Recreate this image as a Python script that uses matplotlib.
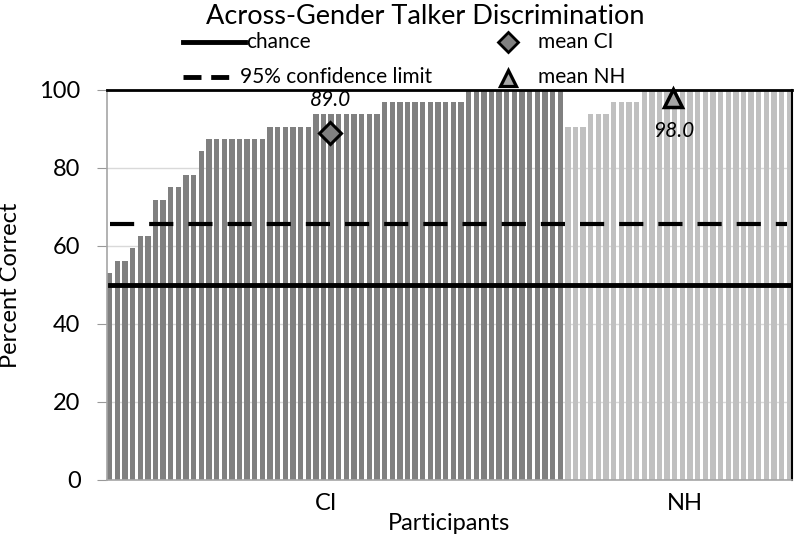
import numpy as np
import matplotlib.pyplot as plt
from matplotlib.lines import Line2D

plt.rcParams["font.family"] = ["Lato", "DejaVu Sans"]

# percent correct per participant, sorted within group
ci_scores = [53.125, 56.25, 56.25, 59.375, 62.5, 62.5, 71.875, 71.875, 75.0, 75.0,
             78.125, 78.125, 84.375, 87.5, 87.5, 87.5, 87.5, 87.5, 87.5, 87.5,
             87.5, 90.625, 90.625, 90.625, 90.625, 90.625, 90.625, 93.75, 93.75, 93.75,
             93.75, 93.75, 93.75, 93.75, 93.75, 93.75, 96.875, 96.875, 96.875, 96.875,
             96.875, 96.875, 96.875, 96.875, 96.875, 96.875, 96.875, 100, 100, 100,
             100, 100, 100, 100, 100, 100, 100, 100, 100, 100]
nh_scores = [90.625, 90.625, 90.625, 93.75, 93.75, 93.75, 96.875, 96.875, 96.875, 96.875,
             100, 100, 100, 100, 100, 100, 100, 100, 100, 100,
             100, 100, 100, 100, 100, 100, 100, 100, 100, 100]

group_labels = ["CI", "NH"]
group_label_pos = [28.4, 75.3]

chance_level = 50
conf_limit = 65.625

ci_mean = 89.0
nh_mean = 98.0
ci_mean_pos = 28.9
nh_mean_pos = 73.8

ci_color = "#808080"
nh_color = "#c0c0c0"

fig = plt.figure(figsize=(8, 5.43), dpi=100)
ax = fig.add_axes([107 / 800, 63 / 543, 685 / 800, 390 / 543])

n_ci = len(ci_scores)
n_nh = len(nh_scores)
x_ci = np.arange(n_ci)
x_nh = np.arange(n_ci, n_ci + n_nh)

ax.bar(x_ci, ci_scores, width=0.7, color=ci_color, zorder=2)
ax.bar(x_nh, nh_scores, width=0.7, color=nh_color, zorder=2)

x_end = n_ci + n_nh - 0.5
ax.plot([0, x_end], [chance_level, chance_level], color="black", lw=3.5, zorder=3)
ax.plot([0, x_end - 0.8], [conf_limit, conf_limit], color="black", lw=3,
        linestyle=(0, (5.8, 3.6)), zorder=3)

ax.plot(ci_mean_pos, ci_mean, marker="D", ms=11, mfc="#808080", mec="black",
        mew=2.2, zorder=4, clip_on=False)
ax.plot(nh_mean_pos, nh_mean, marker="^", ms=13, mfc="#a6a6a6", mec="black",
        mew=2.5, zorder=4, clip_on=False)
ax.annotate(f"{ci_mean:.1f}", (ci_mean_pos, ci_mean), xytext=(0, 24),
            textcoords="offset points", ha="center", va="center",
            fontsize=15, style="italic")
ax.annotate(f"{nh_mean:.1f}", (nh_mean_pos, nh_mean), xytext=(0, -24),
            textcoords="offset points", ha="center", va="center",
            fontsize=15, style="italic")

ax.set_xlim(-0.35, x_end - 0.15)
ax.set_ylim(0, 100)
ax.set_yticks([0, 20, 40, 60, 80, 100])
ax.yaxis.grid(True, color="#d9d9d9", lw=1, zorder=0)
ax.set_axisbelow(True)
ax.set_xticks(group_label_pos)
ax.set_xticklabels(group_labels)
ax.tick_params(axis="x", length=0, pad=9, labelsize=17)
ax.tick_params(axis="y", length=7, color="#999999", pad=12, labelsize=17)

for s in ["left", "bottom"]:
    ax.spines[s].set_color("#a6a6a6")
    ax.spines[s].set_linewidth(1.2)
ax.spines["top"].set_color("black")
ax.spines["top"].set_linewidth(2)
ax.spines["right"].set_color("black")
ax.spines["right"].set_linewidth(1.5)

ax.set_xlabel("Participants", fontsize=17, labelpad=0)
ax.set_ylabel("Percent Correct", fontsize=17, labelpad=13)

fig.text(425 / 800, 1 - 17 / 543, "Across-Gender Talker Discrimination",
         ha="center", va="center", fontsize=19.5)

# legend drawn by hand, laid out like the original
def fx(px):
    return px / 800

def fy(py):
    return 1 - py / 543

fig.add_artist(Line2D([fx(183), fx(245)], [fy(42), fy(42)], color="black", lw=3.5))
fig.add_artist(Line2D([fx(183), fx(230)], [fy(77), fy(77)], color="black", lw=3.5,
                      linestyle=(0, (3.7, 2.0))))
fig.add_artist(Line2D([fx(508)], [fy(42)], marker="D", ms=10, mfc="#808080",
                      mec="black", mew=2))
fig.add_artist(Line2D([fx(508)], [fy(78)], marker="^", ms=12, mfc="#a6a6a6",
                      mec="black", mew=2.3))
fig.text(fx(246), fy(42), "chance", ha="left", va="center", fontsize=15)
fig.text(fx(240), fy(77), "95% confidence limit", ha="left", va="center", fontsize=15)
fig.text(fx(538), fy(42), "mean CI", ha="left", va="center", fontsize=15)
fig.text(fx(538), fy(77), "mean NH", ha="left", va="center", fontsize=15)

fig.savefig("out.png", dpi=100)
